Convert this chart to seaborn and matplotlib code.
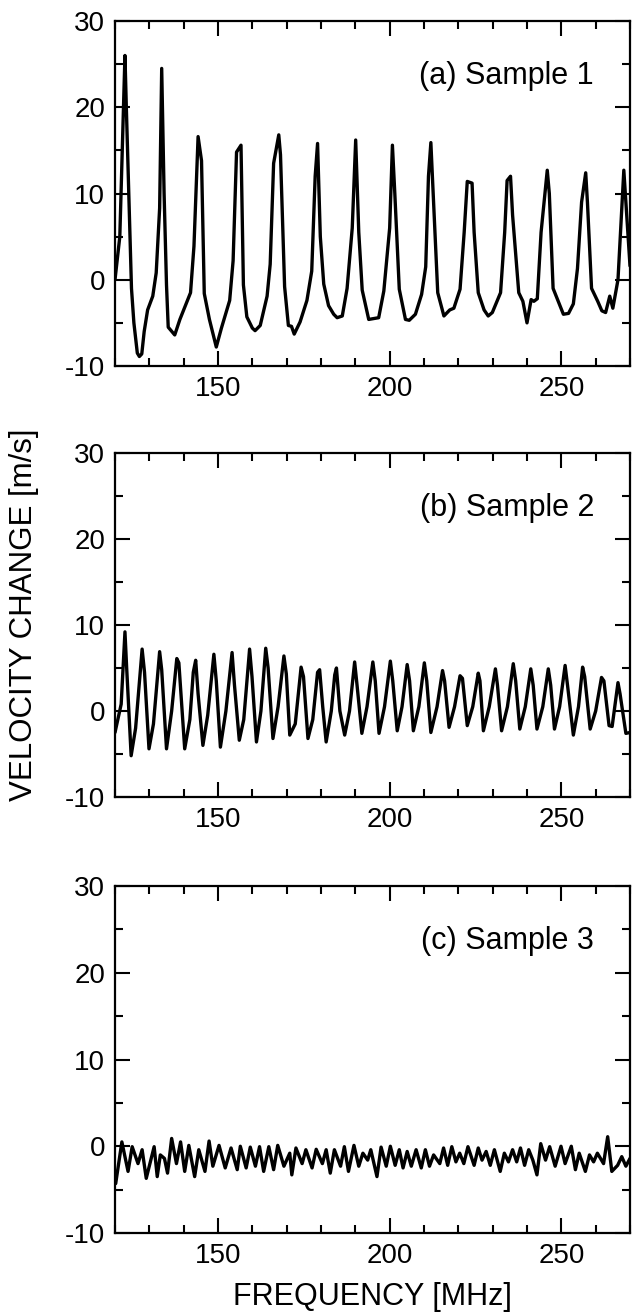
import matplotlib
matplotlib.use("Agg")
import matplotlib.pyplot as plt
from matplotlib.ticker import MultipleLocator
import seaborn as sns
import pandas as pd

# ---------------- data ----------------
freq_a = [120.0, 121.4, 122.9, 123.3, 124.8, 125.5, 126.5, 127.1, 127.8, 128.5, 129.5, 131.0,
          132.0, 133.0, 133.6, 134.3, 135.0, 135.5, 137.4, 138.9, 141.0, 142.0, 143.0, 144.2,
          145.2, 146.0, 147.5, 149.5, 151.0, 153.4, 154.4, 155.4, 156.7, 157.4, 158.4, 160.0,
          160.8, 162.3, 164.3, 165.2, 166.2, 167.7, 168.2, 169.4, 170.5, 171.4, 172.2, 173.9,
          175.9, 177.3, 178.3, 179.0, 179.8, 180.8, 182.2, 183.7, 184.7, 186.2, 187.6, 189.1,
          190.1, 191.0, 192.0, 193.9, 196.8, 198.3, 200.0, 200.8, 201.5, 202.8, 204.6, 205.7,
          207.5, 209.3, 210.5, 211.3, 212.0, 212.5, 214.0, 215.8, 217.5, 218.7, 220.5, 221.7,
          222.6, 224.0, 224.6, 225.8, 227.5, 228.7, 229.9, 232.3, 233.5, 234.2, 235.2, 235.8,
          237.6, 238.8, 240.0, 241.2, 242.0, 243.0, 244.1, 245.9, 246.5, 247.6, 249.4, 250.6,
          252.1, 253.5, 254.7, 255.9, 257.1, 257.6, 258.8, 260.6, 261.8, 262.9, 264.1, 265.0,
          266.5, 268.2, 270.0]
vel_a = [0.0, 5.0, 26.0, 20.0, -1.0, -5.0, -8.5, -8.9, -8.6, -6.0, -3.5, -1.9,
         0.8, 8.3, 24.5, 10.0, -0.6, -5.5, -6.4, -4.6, -2.5, -1.5, 3.9, 16.6,
         13.8, -1.6, -4.6, -7.8, -5.6, -2.4, 2.2, 14.8, 15.6, -0.6, -4.3, -5.6,
         -5.9, -5.3, -1.9, 1.8, 13.5, 16.8, 14.5, -0.8, -5.3, -5.4, -6.3, -4.9,
         -2.4, 1.0, 12.0, 15.8, 5.0, -0.5, -3.0, -4.0, -4.4, -4.2, -1.0, 6.0,
         16.2, 5.5, -1.2, -4.6, -4.4, -1.3, 6.0, 15.6, 10.0, -1.1, -4.6, -4.7,
         -4.0, -1.7, 1.5, 12.0, 15.9, 11.5, -1.5, -4.2, -3.5, -3.3, -1.1, 5.5,
         11.4, 11.2, 5.5, -1.5, -3.5, -4.2, -3.8, -1.5, 5.5, 11.5, 12.0, 7.5,
         -1.5, -2.5, -5.0, -2.3, -2.5, -2.2, 5.5, 12.7, 10.0, -1.0, -2.8, -4.0,
         -3.9, -2.8, 1.3, 9.0, 12.4, 9.0, -1.0, -2.5, -3.6, -3.8, -1.9, -3.3,
         0.0, 12.7, 1.6]

freq_b = [120.0, 121.8, 122.9, 123.4, 124.7, 126.0, 127.9, 128.6, 129.9, 131.2, 133.0, 133.6,
          135.0, 136.5, 138.0, 138.6, 140.3, 141.8, 142.8, 143.5, 144.2, 145.6, 147.0, 148.8,
          149.5, 150.7, 152.3, 154.1, 154.8, 156.2, 157.5, 159.2, 159.9, 161.2, 162.5, 163.9,
          164.6, 166.0, 167.5, 169.2, 169.9, 170.9, 172.5, 174.2, 174.9, 176.2, 177.6, 179.0,
          179.6, 180.5, 181.5, 183.0, 184.0, 184.5, 185.5, 186.9, 188.3, 189.8, 190.5, 191.9,
          193.4, 195.1, 195.8, 196.9, 198.5, 200.2, 200.9, 202.2, 203.6, 205.1, 205.8, 206.9,
          208.5, 210.1, 210.8, 212.0, 213.8, 215.4, 216.0, 217.3, 218.9, 220.5, 221.2, 222.6,
          224.2, 225.8, 226.3, 227.3, 229.0, 230.8, 231.4, 232.6, 234.3, 236.0, 236.7, 237.9,
          239.5, 241.1, 241.8, 242.9, 244.6, 246.2, 246.9, 248.0, 249.5, 251.1, 251.8, 253.5,
          255.0, 256.2, 256.8, 258.4, 260.0, 261.7, 262.4, 263.9, 264.8, 266.5, 267.1, 268.8,
          270.0]
vel_b = [-2.5, 0.8, 9.2, 5.0, -5.2, -2.0, 7.2, 4.5, -4.4, -1.5, 6.9, 4.8,
         -4.4, 0.0, 6.1, 5.6, -4.4, -1.0, 4.5, 5.9, 2.0, -4.0, -0.5, 6.6,
         3.5, -4.2, 0.0, 6.8, 3.0, -3.4, -1.0, 7.2, 4.0, -3.6, 0.0, 7.3,
         5.0, -3.2, 0.5, 6.4, 4.3, -2.8, -1.5, 5.1, 4.0, -3.2, -1.0, 4.5,
         4.8, 0.5, -3.6, 0.0, 4.2, 5.0, 0.0, -2.8, 0.0, 5.7, 3.0, -2.6,
         0.5, 5.7, 3.5, -2.6, 0.5, 5.8, 3.5, -2.3, 0.5, 5.4, 3.5, -2.3,
         0.5, 5.6, 3.5, -2.5, 0.5, 4.7, 3.5, -1.9, 0.5, 4.1, 3.8, -1.7,
         0.5, 4.4, 3.5, -2.3, 0.5, 4.9, 3.0, -2.3, 0.5, 5.5, 3.5, -2.1,
         0.5, 4.9, 3.0, -2.1, 0.5, 4.9, 3.0, -2.1, 0.5, 5.3, 3.0, -2.8,
         0.5, 5.1, 4.0, -2.1, 0.0, 3.9, 3.5, -1.7, -1.8, 3.3, 2.0, -2.6,
         -2.5]

freq_c = [120.2, 122.0, 123.8, 125.0, 126.7, 127.9, 129.1, 131.4, 132.3, 133.2, 134.4, 135.3,
          136.5, 137.9, 139.1, 140.3, 141.5, 143.2, 144.4, 146.2, 147.4, 148.5, 150.3, 152.1,
          153.8, 155.6, 156.5, 158.2, 159.4, 160.9, 162.1, 163.3, 164.8, 166.2, 167.4, 169.2,
          170.9, 171.5, 172.7, 174.5, 175.6, 177.4, 178.6, 180.4, 181.5, 182.7, 183.9, 185.7,
          186.8, 188.0, 189.6, 191.0, 192.2, 193.6, 194.5, 196.3, 197.5, 199.0, 200.2, 201.6,
          202.8, 203.9, 205.1, 206.3, 207.7, 209.2, 210.4, 211.6, 212.8, 214.6, 215.7, 216.9,
          218.1, 219.3, 220.4, 221.6, 222.8, 224.6, 225.8, 226.9, 228.1, 229.3, 230.5, 232.2,
          233.4, 234.6, 235.8, 237.0, 238.1, 239.3, 240.5, 241.7, 242.9, 244.0, 245.4, 246.6,
          248.2, 249.9, 251.1, 252.9, 254.1, 255.2, 257.0, 258.2, 259.4, 260.5, 262.3, 263.5,
          264.7, 266.4, 267.6, 268.8, 270.0]
vel_c = [-4.3, 0.5, -2.9, -0.05, -2.0, -0.4, -3.7, -0.05, -3.5, -1.0, -1.4, -3.1,
         0.9, -2.0, 0.5, -2.9, 0.1, -3.5, -0.4, -2.9, 0.6, -2.3, 0.1, -2.5,
         -0.2, -2.7, 0.0, -2.5, -0.1, -2.3, -0.05, -2.9, -0.05, -2.7, 0.1, -2.3,
         -0.8, -3.3, -0.2, -2.0, -0.4, -2.5, -0.35, -2.0, -0.4, -3.1, -0.4, -2.3,
         -0.05, -2.9, 0.1, -2.3, -0.8, -1.6, -0.4, -3.5, -0.1, -2.3, 0.0, -2.2,
         -0.4, -2.5, -0.6, -2.3, -0.4, -2.5, -0.4, -2.3, -1.0, -2.0, -0.2, -2.2,
         -0.05, -1.8, -0.8, -2.0, -0.05, -2.2, -0.2, -1.6, -0.6, -2.2, -0.4, -2.9,
         -0.8, -1.8, -0.4, -1.8, -0.2, -2.2, -0.4, -1.6, -3.3, 0.3, -1.6, -0.05,
         -2.3, 0.0, -2.0, 0.0, -2.7, -0.8, -2.9, -1.0, -1.8, -0.8, -2.0, 1.1,
         -2.9, -2.2, -1.2, -2.3, -1.4]

panel_labels = ["(a) Sample 1", "(b) Sample 2", "(c) Sample 3"]
x_ticks = [150, 200, 250]
y_ticks = [-10, 0, 10, 20, 30]
x_label = "FREQUENCY [MHz]"
y_label = "VELOCITY CHANGE [m/s]"

# ---------------- style ----------------
sns.set_theme(style="ticks")
plt.rcParams["font.family"] = ["Liberation Sans", "DejaVu Sans"]
plt.rcParams["axes.unicode_minus"] = False

W, H = 633, 1312
fig = plt.figure(figsize=(W / 100, H / 100), dpi=100)

left, right = 115, 630
panels_px = [(21, 366), (453, 797), (886, 1233)]
series = [(freq_a, vel_a), (freq_b, vel_b), (freq_c, vel_c)]

for (top, bot), (fx, vy), lab in zip(panels_px, series, panel_labels):
    ax = fig.add_axes([left / W, 1 - bot / H, (right - left) / W, (bot - top) / H])
    df = pd.DataFrame({"f": fx, "v": vy})
    sns.lineplot(data=df, x="f", y="v", ax=ax, color="black", linewidth=2.4,
                 estimator=None, sort=False)
    ax.set_xlim(120, 270)
    ax.set_ylim(-10, 30)
    ax.set_xticks(x_ticks)
    ax.set_yticks(y_ticks)
    ax.xaxis.set_minor_locator(MultipleLocator(10))
    ax.yaxis.set_minor_locator(MultipleLocator(5))
    ax.tick_params(which="both", direction="in", top=True, right=True,
                   width=1.5, colors="black", labelsize=20)
    ax.tick_params(which="major", length=10.5, pad=7)
    ax.tick_params(which="minor", length=5.5)
    for s in ax.spines.values():
        s.set_linewidth(1.6)
        s.set_color("black")
        s.set_visible(True)
    ax.set_xlabel("")
    ax.set_ylabel("")
    ax.text(259.5, 22.7, lab, ha="right", va="baseline", fontsize=22, color="black")

fig.text(24 / W, 1 - 615 / H, y_label, rotation=90, ha="center", va="center",
         fontsize=22.5, color="black")
fig.text(372.5 / W, 1 - 1305 / H, x_label, ha="center", va="baseline",
         fontsize=22, color="black")

fig.savefig("out.png", dpi=100, facecolor="white")
